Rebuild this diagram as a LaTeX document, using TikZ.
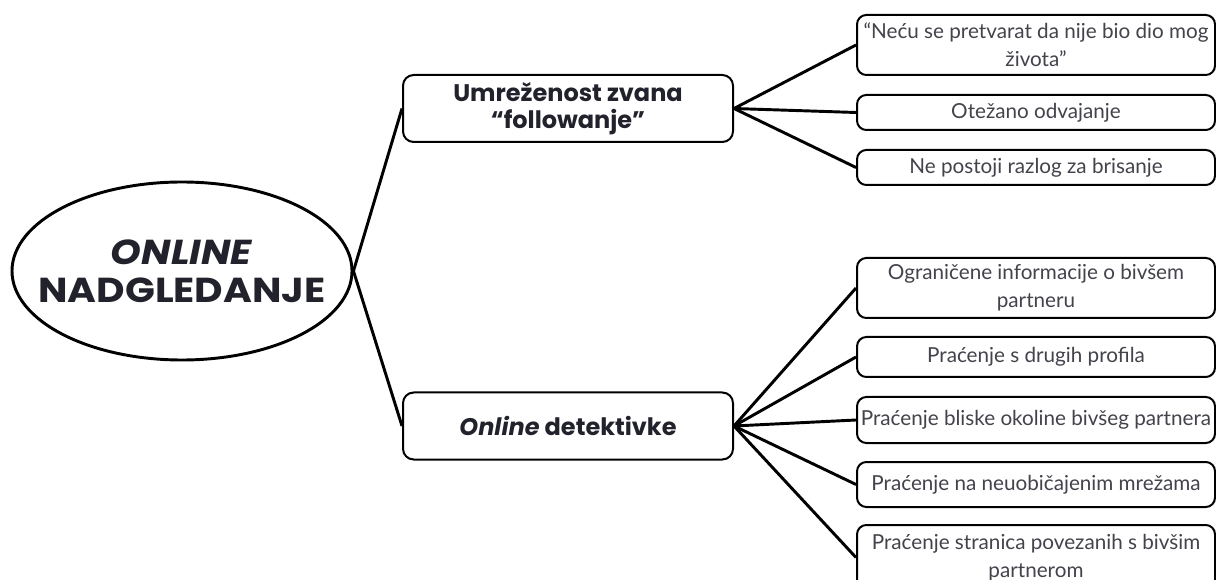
\documentclass[tikz,border=0pt]{standalone}
\usepackage{fontspec}
\setmainfont{Lato}
\newfontfamily\headfont{Poppins}
\newfontfamily\titlefont{Poppins}[FakeStretch=1.13]
\usetikzlibrary{shapes.geometric}

\definecolor{ink}{HTML}{22222C}

\tikzset{
  mainnode/.style={ellipse, draw, line width=2.2pt, minimum width=255pt,
    minimum height=133.5pt, inner sep=0pt, align=center, text=ink,
    font=\titlefont\bfseries\fontsize{26}{28.5}\selectfont},
  midbox/.style={draw, line width=1.5pt, rounded corners=8pt,
    minimum width=247.5pt, minimum height=50.25pt, inner sep=0pt,
    align=center, text=ink, font=\headfont\bfseries\fontsize{18}{20}\selectfont},
  leafbox/.style={draw, line width=1.5pt, rounded corners=7pt,
    minimum width=268.5pt, inner sep=0pt, align=center, text=ink!85,
    font=\fontsize{15.5}{21}\selectfont},
  link/.style={line width=2.2pt},
}

\begin{document}
\begin{tikzpicture}[x=0.75pt,y=-0.75pt]
  \clip (0,0) rectangle (1216,580);
  \fill[white] (0,0) rectangle (1216,580);

  % main topic (text kept narrow so the ellipse keeps its size)
  \node[mainnode] (nadgl) at (182,271)
    {\makebox[0pt]{\textit{ONLINE}}\\\makebox[0pt]{NADGLEDANJE}};

  % the two branches
  \node[midbox] (umrez) at (568,108.5) {Umreženost zvana\\“followanje”};
  \node[midbox] (detekt) at (568,426) {\textit{Online} detektivke};

  % leaves of the first branch
  \node[leafbox, minimum height=45pt] (necu) at (1036,45)
    {“Neću se pretvarat da nije bio dio mog\\života”};
  \node[leafbox, minimum height=26.25pt] (otez) at (1036,112.5) {Otežano odvajanje};
  \node[leafbox, minimum height=26.25pt] (razlog) at (1036,167.5) {Ne postoji razlog za brisanje};

  % leaves of the second branch
  \node[leafbox, minimum height=45pt] (ogran) at (1036,288)
    {Ograničene informacije o bivšem\\partneru};
  \node[leafbox, minimum height=30pt] (profil) at (1036,357) {Praćenje s drugih profila};
  \node[leafbox, minimum height=34.5pt] (okol) at (1036,420) {Praćenje bliske okoline bivšeg partnera};
  \node[leafbox, minimum height=33.75pt] (mreze) at (1036,484.5) {Praćenje na neuobičajenim mrežama};
  \node[leafbox, minimum height=48.75pt] (stran) at (1036,557.5)
    {Praćenje stranica povezanih s bivšim\\partnerom};

  % connectors
  \draw[link] (nadgl.east) -- (umrez.west);
  \draw[link] (nadgl.east) -- (detekt.west);
  \foreach \leaf in {necu,otez,razlog}
    \draw[link] (umrez.east) -- (\leaf.west);
  \foreach \leaf in {ogran,profil,okol,mreze,stran}
    \draw[link] (detekt.east) -- (\leaf.west);
\end{tikzpicture}
\end{document}
